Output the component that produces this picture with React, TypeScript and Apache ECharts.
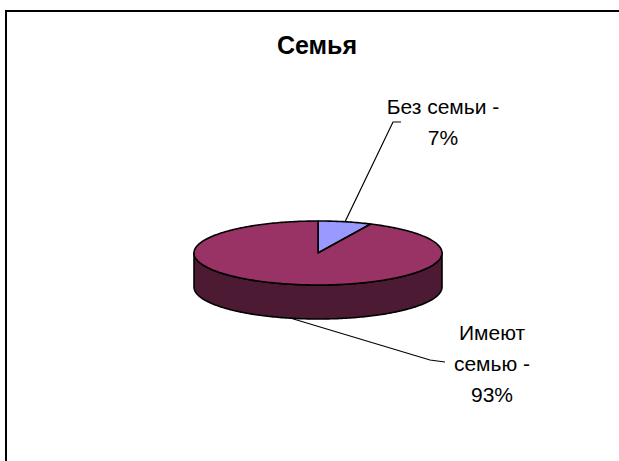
import React, { useEffect, useRef } from "react";
import * as echarts from "echarts";

const categories = ["Без семьи", "Имеют семью"];
const values = [7, 93];
const topColors = ["#9999FF", "#993366"];
const sideColors = ["#4D4D80", "#4D1A33"];

// layout (pixels)
const CX = 318;
const CY = 253;
const RA = 124;
const RB = 32;
const DEPTH = 34;
const FONT = "Liberation Sans, Arial, sans-serif";
const labelLayout = [
  { line: [[null, null], [393, 122], [401, 122]], tx: 443, ty: 122 },
  { line: [[null, null], [430, 360], [445, 362]], tx: 492, ty: 363 },
];

function pt(deg: number, dy = 0): number[] {
  const r = (deg * Math.PI) / 180;
  return [CX + RA * Math.sin(r), CY - RB * Math.cos(r) + dy];
}

function arcPts(a0: number, a1: number, dy = 0): number[][] {
  const out: number[][] = [];
  const n = Math.max(2, Math.ceil(Math.abs(a1 - a0)));
  for (let i = 0; i <= n; i++) out.push(pt(a0 + ((a1 - a0) * i) / n, dy));
  return out;
}

export default function App() {
  const ref = useRef<HTMLDivElement>(null);
  useEffect(() => {
    if (!ref.current) return;
    const chart = echarts.init(ref.current, undefined, { renderer: "svg" });
    const total = values.reduce((s, v) => s + v, 0);
    const starts: number[] = [];
    let acc = 0;
    values.forEach((v) => {
      starts.push((acc / total) * 360);
      acc += v;
    });

    const renderItem = (params: any, api: any) => {
      const i = params.dataIndex;
      const v = api.value(0);
      const a0 = starts[i];
      const a1 = a0 + (v / total) * 360;
      const children: any[] = [];
      const s0 = Math.max(a0, 90);
      const s1 = Math.min(a1, 270);
      if (s1 > s0) {
        const topArc = arcPts(s0, s1, 0);
        const botArc = arcPts(s1, s0, DEPTH);
        children.push({
          type: "polygon",
          z2: 1,
          shape: { points: topArc.concat(botArc) },
          style: { fill: sideColors[i], stroke: "#000", lineWidth: 1.6, lineJoin: "round" },
        });
      }
      children.push({
        type: "polygon",
        z2: 5,
        shape: { points: [[CX, CY]].concat(arcPts(a0, a1, 0)) },
        style: { fill: topColors[i], stroke: "#000", lineWidth: 1.6, lineJoin: "round" },
      });
      const mid = (a0 + a1) / 2;
      const front = mid > 90 && mid < 270;
      const start = pt(mid, front ? DEPTH : 0);
      const lay = labelLayout[i];
      const pts = [start].concat(lay.line.slice(1) as number[][]);
      children.push({
        type: "polyline",
        z2: 8,
        shape: { points: pts },
        style: { stroke: "#000", lineWidth: 1.2, fill: null },
      });
      const pct = Math.round((v / total) * 100);
      const words = categories[i].split(" ");
      const txt =
        i === 0
          ? `${categories[i]} -\n${pct}%`
          : `${words[0]}\n${words.slice(1).join(" ")} -\n${pct}%`;
      children.push({
        type: "text",
        z2: 9,
        x: lay.tx,
        y: lay.ty,
        style: {
          text: txt,
          textAlign: "center",
          textVerticalAlign: "middle",
          fontSize: 21,
          fontFamily: FONT,
          lineHeight: 31,
          fill: "#000",
        },
      });
      return { type: "group", children };
    };

    chart.setOption({
      animation: false,
      backgroundColor: "#ffffff",
      graphic: [
        {
          type: "rect",
          shape: { x: 6, y: 11, width: 700, height: 600 },
          style: { fill: "none", stroke: "#000", lineWidth: 2 },
          z: 100,
        },
        {
          type: "text",
          x: 317,
          y: 45,
          style: {
            text: "Семья",
            textAlign: "center",
            textVerticalAlign: "middle",
            font: `bold 25px ${FONT}`,
            fill: "#000",
          },
        },
      ],
      series: [
        {
          type: "custom",
          coordinateSystem: "none",
          renderItem,
          data: values.map((v, i) => ({ name: categories[i], value: [v] })),
        },
      ],
    });
    return () => chart.dispose();
  }, []);
  return (
    <div
      ref={ref}
      style={{ position: "fixed", left: 0, top: 0, width: 619, height: 461 }}
    />
  );
}
